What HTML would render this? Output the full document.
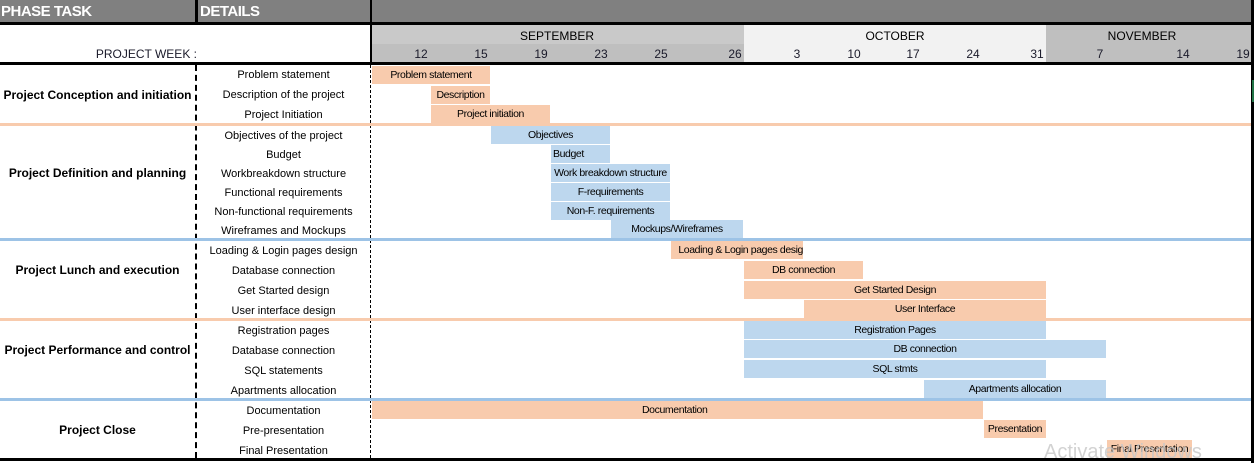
<!DOCTYPE html>
<html><head><meta charset="utf-8"><style>
*{margin:0;padding:0;box-sizing:border-box}
body{width:1254px;height:463px;background:#fff;position:relative;overflow:hidden;font-family:"Liberation Sans",sans-serif;color:#000}
div{position:absolute}
.h{color:#fff;font-weight:bold;font-size:15px;top:3px;letter-spacing:-0.5px}
.wk{top:47px;font-size:12px;width:40px;text-align:center;color:#1a1a2a}
.mo{top:29px;font-size:12px;width:120px;text-align:center}
.d{left:197px;width:173px;text-align:center;font-size:11px;line-height:20px}
.p{left:0;width:195px;text-align:center;font-weight:bold;font-size:12px;line-height:20px}
.b{height:18px;font-size:10.5px;line-height:19px;text-align:center;white-space:nowrap;overflow:hidden;letter-spacing:-0.4px}
.o{background:#f8cbad}.u{background:#bdd7ee}
.sep{left:0;width:1251px;height:3px}
</style></head><body>
<div style="left:0;top:0;width:1254px;height:22px;background:#808080"></div>
<div style="left:0;top:22px;width:1254px;height:3px;background:#000"></div>
<div style="left:195px;top:0;width:3px;height:25px;background:#000"></div>
<div style="left:370px;top:0;width:2px;height:65px;background:#000"></div>
<div class="h" style="left:1px">PHASE TASK</div>
<div class="h" style="left:200px">DETAILS</div>
<div style="left:372px;top:25px;width:372px;height:19px;background:#c9c9c9"></div>
<div style="left:372px;top:44px;width:372px;height:18px;background:#bfbfbf"></div>
<div style="left:744px;top:25px;width:302px;height:37px;background:#f2f2f2"></div>
<div style="left:1046px;top:25px;width:206px;height:37px;background:#bfbfbf"></div>
<div class="mo" style="left:497px">SEPTEMBER</div>
<div class="mo" style="left:835px">OCTOBER</div>
<div class="mo" style="left:1082px">NOVEMBER</div>
<div style="left:0;top:47px;width:197px;text-align:right;font-size:12px;color:#1a1a2a">PROJECT WEEK :</div>
<div class="wk" style="left:401px">12</div><div class="wk" style="left:461px">15</div><div class="wk" style="left:521px">19</div><div class="wk" style="left:581px">23</div><div class="wk" style="left:641px">25</div><div class="wk" style="left:715px">26</div><div class="wk" style="left:777px">3</div><div class="wk" style="left:834px">10</div><div class="wk" style="left:893px">17</div><div class="wk" style="left:953px">24</div><div class="wk" style="left:1017px">31</div><div class="wk" style="left:1080px">7</div><div class="wk" style="left:1163px">14</div><div class="wk" style="left:1223px">19</div>
<div style="left:0;top:62px;width:1254px;height:3px;background:#000"></div>
<div style="left:1251px;top:0;width:3px;height:463px;background:#000"></div>
<div style="left:0;top:458px;width:1254px;height:3px;background:#000"></div>
<div style="left:195px;top:65px;width:0;height:393px;border-left:2px dashed #000"></div>
<div style="left:370px;top:65px;width:0;height:393px;border-left:1.5px dashed #000"></div>
<div style="left:1252px;top:80px;width:2px;height:22px;background:#217346"></div>

<div class="sep" style="top:123px;background:#f8cbad"></div>
<div class="sep" style="top:238px;background:#9dc3e6"></div>
<div class="sep" style="top:318px;background:#f8cbad"></div>
<div class="sep" style="top:398px;background:#9dc3e6"></div>

<div class="p" style="top:85px">Project Conception and initiation</div>
<div class="p" style="top:163px">Project Definition and planning</div>
<div class="p" style="top:260px">Project Lunch and execution</div>
<div class="p" style="top:340px">Project Performance and control</div>
<div class="p" style="top:420px">Project Close</div>

<div class="d" style="top:65px">Problem statement</div>
<div class="d" style="top:85px">Description of the project</div>
<div class="d" style="top:105px">Project Initiation</div>
<div class="d" style="top:126px">Objectives of the project</div>
<div class="d" style="top:145px">Budget</div>
<div class="d" style="top:164px">Workbreakdown structure</div>
<div class="d" style="top:183px">Functional requirements</div>
<div class="d" style="top:202px">Non-functional requirements</div>
<div class="d" style="top:221px">Wireframes and Mockups</div>
<div class="d" style="top:241px">Loading &amp; Login pages design</div>
<div class="d" style="top:261px">Database connection</div>
<div class="d" style="top:281px">Get Started design</div>
<div class="d" style="top:301px">User interface design</div>
<div class="d" style="top:321px">Registration pages</div>
<div class="d" style="top:341px">Database connection</div>
<div class="d" style="top:361px">SQL statements</div>
<div class="d" style="top:381px">Apartments allocation</div>
<div class="d" style="top:401px">Documentation</div>
<div class="d" style="top:421px">Pre-presentation</div>
<div class="d" style="top:441px">Final Presentation</div>

<div class="b o" style="left:372px;top:66px;width:118px">Problem statement</div>
<div class="b o" style="left:431px;top:86px;width:59px">Description</div>
<div class="b o" style="left:431px;top:105px;width:119px">Project initiation</div>
<div class="b u" style="left:491px;top:126px;width:119px">Objectives</div>
<div class="b u" style="left:551px;top:145px;width:59px;text-align:left;padding-left:2px">Budget</div>
<div class="b u" style="left:551px;top:164px;width:119px">Work breakdown structure</div>
<div class="b u" style="left:551px;top:183px;width:119px">F-requirements</div>
<div class="b u" style="left:551px;top:202px;width:119px">Non-F. requirements</div>
<div class="b u" style="left:611px;top:220px;width:132px">Mockups/Wireframes</div>
<div class="b o" style="left:671px;top:241px;width:132px;text-align:right">Loading &amp; Login pages desig</div>
<div class="b o" style="left:744px;top:261px;width:119px">DB connection</div>
<div class="b o" style="left:744px;top:281px;width:302px">Get Started Design</div>
<div class="b o" style="left:804px;top:300px;width:242px">User Interface</div>
<div class="b u" style="left:744px;top:321px;width:302px">Registration Pages</div>
<div class="b u" style="left:744px;top:340px;width:362px">DB connection</div>
<div class="b u" style="left:744px;top:360px;width:302px">SQL stmts</div>
<div class="b u" style="left:924px;top:380px;width:182px">Apartments allocation</div>
<div class="b o" style="left:372px;top:401px;width:611px;text-align:left;padding-left:270px">Documentation</div>
<div class="b o" style="left:984px;top:420px;width:62px">Presentation</div>
<div class="b o" style="left:1107px;top:440px;width:85px">Final Presentation</div>
<div style="left:1044px;top:441px;font-size:20px;color:#c8c8c8;opacity:0.8">Activate Windows</div>
</body></html>
